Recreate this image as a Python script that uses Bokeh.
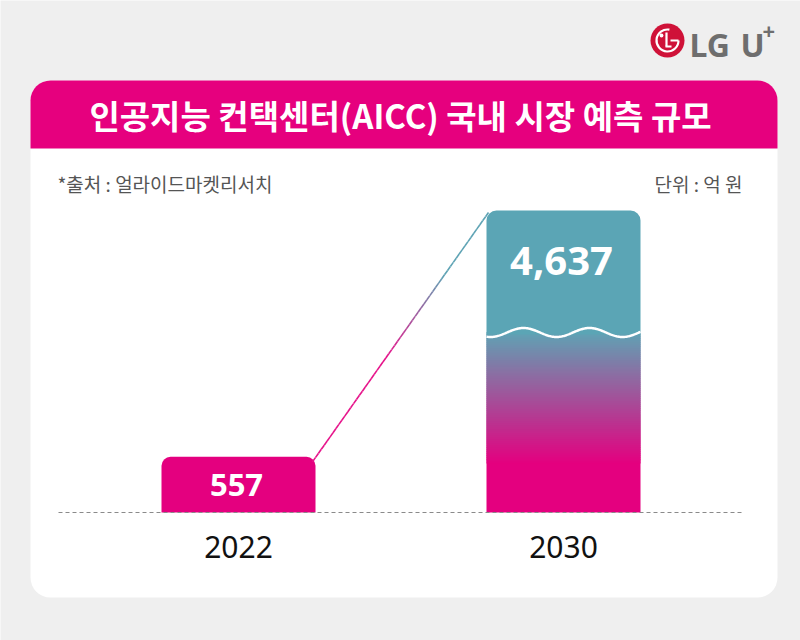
import numpy as np
from bokeh.plotting import figure
from bokeh.models import Range1d
from bokeh.core.properties import value
from bokeh.embed import file_html
from bokeh.resources import INLINE

# --- data -------------------------------------------------------------
years = ["2022", "2030"]
market_size = [557, 4637]          # 억 원
value_labels = ["557", "4,637"]
title_text = "인공지능 컨택센터(AICC) 국내 시장 예측 규모"
source_note = "*출처 : 얼라이드마켓리서치"
unit_note = "단위 : 억 원"

# --- layout constants ---------------------------------------------------
W, H = 800, 640
BASE_PX = 512            # baseline, pixels from the top
UNITS_PER_PX = 10        # value units per pixel below the axis break
AXIS_BREAK = 1800        # values above this are compressed (wavy break)
COMPRESS = 0.43
BAR_X = [238, 563]
BAR_W = 154

PINK = "#e4007f"
TEAL = "#5ba5b5"
KFONT = value("Noto Sans CJK KR")
NFONT = value("Noto Sans")


def shown(v):
    """Value -> plotted height on the broken value axis."""
    return v if v <= AXIS_BREAK else AXIS_BREAK + (v - AXIS_BREAK) * COMPRESS


def py(t):
    """Pixels from the top -> decoration y range."""
    return H - t


def hex_to_rgb(h):
    return np.array([int(h[i:i + 2], 16) for i in (1, 3, 5)], dtype=float)


def mix(c1, c2, t):
    c = (1 - t) * hex_to_rgb(c1) + t * hex_to_rgb(c2)
    return "#%02x%02x%02x" % tuple(int(round(x)) for x in c)


p = figure(width=W, height=H, output_backend="svg", toolbar_location=None,
           x_range=Range1d(0, W),
           y_range=Range1d(-(H - BASE_PX) * UNITS_PER_PX, BASE_PX * UNITS_PER_PX),
           min_border=0, x_axis_location=None, y_axis_location=None)
p.extra_y_ranges = {"px": Range1d(0, H)}
p.grid.visible = False
p.outline_line_color = None
p.background_fill_color = "#efefef"
p.border_fill_color = "#efefef"

# --- card and title band ----------------------------------------------
p.quad(left=30, right=777, top=py(80), bottom=py(597), y_range_name="px",
       fill_color="white", line_color=None, border_radius=20)
p.quad(left=30, right=777, top=py(80), bottom=py(148), y_range_name="px",
       fill_color="#e6007e", line_color=None, border_radius=(20, 20, 0, 0))
p.text(x=[400], y=[py(114)], text=[title_text], y_range_name="px",
       text_font=KFONT, text_font_style="bold", text_font_size="33px",
       text_color="white", text_align="center", text_baseline="middle")

# --- logo ---------------------------------------------------------------
LX, LY = 667, py(40)
p.circle(x=[LX], y=[LY], radius=17, y_range_name="px",
         fill_color="#cf1238", line_color=None)
p.arc(x=[LX], y=[LY], radius=11, start_angle=np.radians(80), end_angle=np.radians(360),
      y_range_name="px", line_color="white", line_width=2.2)
p.segment(x0=[LX + 3], y0=[LY], x1=[LX + 11], y1=[LY], y_range_name="px",
          line_color="white", line_width=2.2)
p.segment(x0=[LX - 1], y0=[LY + 8], x1=[LX - 1], y1=[LY - 6], y_range_name="px",
          line_color="white", line_width=2.2)
p.segment(x0=[LX - 2], y0=[LY - 6], x1=[LX + 4], y1=[LY - 6], y_range_name="px",
          line_color="white", line_width=2.2)
p.circle(x=[LX - 6], y=[LY + 5], radius=1.9, y_range_name="px",
         fill_color="white", line_color=None)
p.text(x=[689], y=[py(44)], text=["LG"], y_range_name="px",
       text_font=NFONT, text_font_style="bold", text_font_size="32px",
       text_color="#6e6e6e", text_align="left", text_baseline="middle")
p.text(x=[740], y=[py(44)], text=["U"], y_range_name="px",
       text_font=NFONT, text_font_style="bold", text_font_size="32px",
       text_color="#6e6e6e", text_align="left", text_baseline="middle")
p.text(x=[762], y=[py(31)], text=["+"], y_range_name="px",
       text_font=NFONT, text_font_style="bold", text_font_size="22px",
       text_color="#6e6e6e", text_align="left", text_baseline="middle")

# --- notes ----------------------------------------------------------------
p.text(x=[57], y=[py(183)], text=[source_note], y_range_name="px",
       text_font=KFONT, text_font_size="19px", text_color="#555555",
       text_align="left", text_baseline="middle")
p.text(x=[742], y=[py(183)], text=[unit_note], y_range_name="px",
       text_font=KFONT, text_font_size="19px", text_color="#555555",
       text_align="right", text_baseline="middle")

# --- bars -----------------------------------------------------------------
heights = [shown(v) for v in market_size]

# 2022: plain bar
p.vbar(x=[BAR_X[0]], width=BAR_W, bottom=0, top=heights[0],
       fill_color=PINK, line_color=None, border_radius=(9, 9, 0, 0))

# 2030: pink foot, pink->teal gradient, teal top
GRAD_TOP = AXIS_BREAK - 20
GRAD_BOTTOM = 490
left2, right2 = BAR_X[1] - BAR_W / 2, BAR_X[1] + BAR_W / 2
p.quad(left=left2, right=right2, bottom=0, top=GRAD_BOTTOM + 20,
       fill_color=PINK, line_color=None)
n = 64
edges = np.linspace(GRAD_BOTTOM, GRAD_TOP, n + 1)
cols = [mix(PINK, "#62a0b3", (i + 0.5) / n) for i in range(n)]
p.quad(left=left2, right=right2, bottom=edges[:-1], top=edges[1:] + 25,
       fill_color=cols, line_color=None)
p.vbar(x=[BAR_X[1]], width=BAR_W, bottom=GRAD_TOP, top=heights[1],
       fill_color=TEAL, line_color=None, border_radius=(10, 10, 0, 0))

# wavy axis-break line
wx = np.linspace(left2, right2, 200)
wy = AXIS_BREAK + 45 * np.cos(2 * np.pi * (wx - (BAR_X[1] - 40)) / 66)
p.line(wx, wy, line_color="white", line_width=2.5)

# value labels
label_y = [max(h / 2, h - 500) for h in heights]
p.text(x=[BAR_X[0] - 2], y=[label_y[0]], text=[value_labels[0]],
       text_font=NFONT, text_font_style="bold", text_font_size="31px",
       text_color="white", text_align="center", text_baseline="middle")
p.text(x=[BAR_X[1] - 2], y=[label_y[1]], text=[value_labels[1]],
       text_font=NFONT, text_font_style="bold", text_font_size="40px",
       text_color="white", text_align="center", text_baseline="middle")

# connector between the bar tops, pink fading into teal
x0c, y0c = BAR_X[0] + BAR_W / 2 - 3, heights[0] - 50
x1c, y1c = left2 + 2, heights[1] - 20
m = 60
ts = np.linspace(0, 1, m + 1)
segx = x0c + (x1c - x0c) * ts
segy = y0c + (y1c - y0c) * ts
seg_cols = []
for t in (ts[:-1] + ts[1:]) / 2:
    k = min(max((t - 0.42) / 0.33, 0), 1)
    seg_cols.append(mix("#e6138a", "#5ea3b4", k))
p.segment(x0=segx[:-1], y0=segy[:-1], x1=segx[1:], y1=segy[1:],
          line_color=seg_cols, line_width=1.6)

# baseline
p.line([58, 742], [0, 0], line_color="#8a8a8a", line_width=1.2, line_dash="4 3")

# category labels
p.text(x=BAR_X, y=[py(546)] * 2, text=years, y_range_name="px",
       text_font=NFONT, text_font_size="30px", text_color="#111111",
       text_align="center", text_baseline="middle")

open("out.html", "w").write(file_html(p, INLINE))
